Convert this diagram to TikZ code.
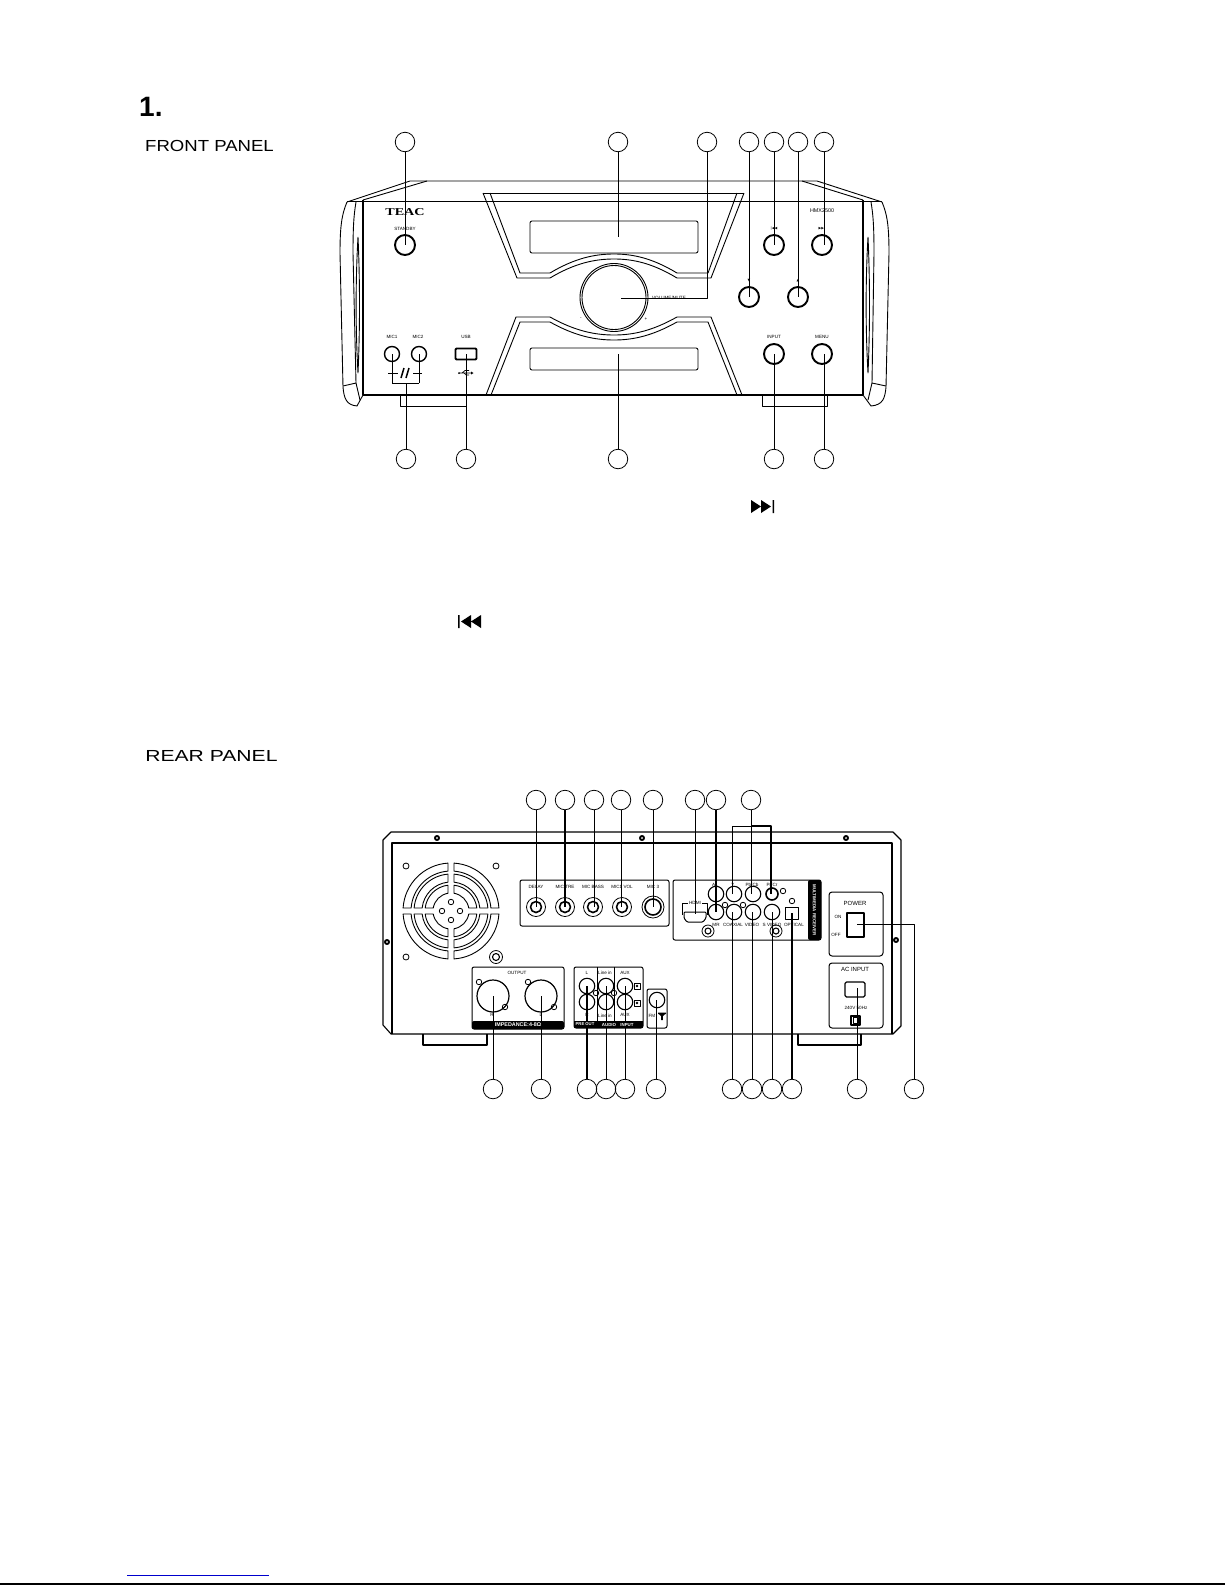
\documentclass[tikz,border=0pt]{standalone}
\usepackage{fontspec}
\usetikzlibrary{calc}
\setmainfont{Liberation Sans}
\newfontfamily\teacfont{Liberation Serif}
\newfontfamily\symfont{DejaVu Sans}
\definecolor{linkblue}{RGB}{0,0,205}
\tikzset{
  cn/.style={circle,draw,line width=0.8pt,minimum size=19.5pt,inner sep=0pt},
  btn/.style={circle,draw,line width=1.9pt,minimum size=20pt,inner sep=0pt},
  jack/.style={circle,draw,line width=1.1pt,minimum size=15.5pt,inner sep=0pt},
  smallhole/.style={circle,draw,line width=0.8pt,minimum size=5.5pt,inner sep=0pt},
  screw/.style={circle,draw,line width=1.9pt,minimum size=4pt,inner sep=0pt},
  lead/.style={line width=0.9pt},
  leadb/.style={line width=1.9pt},
  thin line/.style={line width=0.9pt},
  panelline/.style={line width=1pt,rounded corners=2pt},
  lb/.style={font=\fontsize{4.6}{5}\selectfont,inner sep=0pt},
  lbw/.style={font=\bfseries\fontsize{5.4}{6}\selectfont,inner sep=0pt,text=white},
  head/.style={font=\fontsize{16}{18}\selectfont,inner sep=0pt,anchor=west}
}
\begin{document}
\begin{tikzpicture}[x=1pt,y=-1pt,line join=round]
\useasboundingbox (0,0) rectangle (1225,1585);
\fill[white] (0,0) rectangle (1225,1585);
% headings
\node[inner sep=0pt,anchor=west,font=\bfseries\fontsize{28}{30}\selectfont] (h1) at (139,107) {1.};
\node[head,xscale=1.16] (hf) at (145,146) {FRONT PANEL};
\node[head,xscale=1.32] (hr) at (145,756) {REAR PANEL};
% page furniture
\draw[linkblue,line width=1pt] (127,1575) -- (269,1575);
\draw[line width=1.6pt] (0,1584) -- (1225,1584);
% skip / previous glyphs
\fill (751,500) -- (761,506.5) -- (751,513) -- cycle (761,500) -- (771,506.5) -- (761,513) -- cycle (772.5,500) rectangle (774,513);
\fill (481,615) -- (471,621.5) -- (481,628) -- cycle (471,615) -- (461,621.5) -- (471,628) -- cycle (458,615) rectangle (459.5,628);

%% FRONT PANEL
\begin{scope}[thin line]
\draw (347,202) -- (410,181) -- (817,181) -- (882,202);
\draw (363,200) -- (427,181) (802,181) -- (863,200);
\draw (347,201) -- (882,201) ;
\draw[line width=1.9pt] (363,395) -- (863,395);
\draw[line width=1.5pt] (363,200) -- (363,395) (863,200) -- (863,395);
% ears
\draw (347,202) .. controls (342,214) and (340,225) .. (340,253) -- (343,387) .. controls (344,398) and (346,405) .. (357,406) -- (363,395);
\draw (356,202) .. controls (354,214) and (353,225) .. (353,253) -- (356,383);
\draw (343,386) -- (356,383) -- (360,400);
\draw (358,237) .. controls (355.5,280) and (355.5,330) .. (358,373) .. controls (360,330) and (360,280) .. (358,237);
\draw (882,202) .. controls (887,214) and (889,225) .. (889,253) -- (886,387) .. controls (885,398) and (883,405) .. (871,406) -- (863,395);
\draw (871,202) .. controls (873,214) and (874,225) .. (874,253) -- (872,383);
\draw (886,386) -- (872,383) -- (868,400);
\draw (868,237) .. controls (865.5,280) and (865.5,330) .. (868,373) .. controls (870,330) and (870,280) .. (868,237);
% bezels
\draw (483,193) -- (744,193);
\draw (483,193) -- (517,278) -- (550,278) .. controls (575,263) and (595,259) .. (614,259) .. controls (633,259) and (652,263) .. (677,278) -- (711,278) -- (744,193);
\draw (490,193) -- (520,273) -- (550,273) .. controls (575,258) and (595,254) .. (614,254) .. controls (633,254) and (652,258) .. (677,273) -- (708,273) -- (737,193);
\draw (486,395) -- (516,317) -- (550,317) .. controls (575,331) and (595,335) .. (614,335) .. controls (633,335) and (652,331) .. (677,317) -- (711,317) -- (742,395);
\draw (491,395) -- (520,322) -- (550,322) .. controls (575,336) and (595,340) .. (614,340) .. controls (633,340) and (652,336) .. (677,322) -- (708,322) -- (737,395);
% displays
\draw[rounded corners=2pt] (530,221) rectangle (698,253);
\draw[rounded corners=2pt] (530,348) rectangle (698,370);
% feet
\draw (400,395) -- (400,406) -- (466,406) -- (466,395);
\draw (762,395) -- (762,406) -- (827,406) -- (827,395);
\end{scope}
% knob
\node[circle,draw,fill=white,line width=0.9pt,minimum size=68pt,inner sep=0pt] (knobo) at (614,297.5) {};
\node[circle,draw,line width=0.9pt,minimum size=64pt,inner sep=0pt] (knobi) at (614,297.5) {};
% buttons
\node[btn] (bstandby) at (405,245) {};
\node[btn] (bprev) at (774,245) {};
\node[btn] (bnext) at (822,245) {};
\node[btn] (bdown) at (749,297) {};
\node[btn] (bup) at (798,297) {};
\node[btn] (binput) at (774,354) {};
\node[btn] (bmenu) at (822,354) {};
\node[circle,draw,line width=1.4pt,minimum size=15pt,inner sep=0pt] (bmic1) at (392,354) {};
\node[circle,draw,line width=1.4pt,minimum size=15pt,inner sep=0pt] (bmic2) at (419,354) {};
\node[draw,line width=1.8pt,rounded corners=1pt,minimum width=21pt,minimum height=11pt,inner sep=0pt] (busb) at (466,354) {};
% front labels
\node[inner sep=0pt,font=\teacfont\bfseries\fontsize{10.5}{11}\selectfont,xscale=1.35] (lteac) at (405,212) {TEAC};
\node[lb,font=\fontsize{5.4}{6}\selectfont] (lhmx) at (822,211) {HMX2500};
\node[lb] (lstandby) at (405,229) {STANDBY};
\node[lb] (lmic1) at (392,337) {MIC1};
\node[lb] (lmic2) at (418,337) {MIC2};
\node[lb] (lusb) at (466,337) {USB};
\node[lb] (linput) at (774,337) {INPUT};
\node[lb] (lmenu) at (822,337) {MENU};
\node[lb] (lvol) at (669,298) {VOLUME/MUTE};
\node[lb] (lminus) at (581,319) {-};
\node[lb] (lplus) at (646,319) {+};
\node[lb,font=\symfont\fontsize{3.5}{4}\selectfont] (lprev) at (774,229) {|◀◀};
\node[lb,font=\symfont\fontsize{3.5}{4}\selectfont] (lnext) at (822,229) {▶▶|};
\node[lb,font=\symfont\fontsize{3.5}{4}\selectfont] (ldn) at (749,281) {▼};
\node[lb,font=\symfont\fontsize{3.5}{4}\selectfont] (lup) at (798,281) {▲};
% mic and usb symbols
\draw[line width=1.5pt] (401,378) -- (404,368) (406,378) -- (409,368);
\draw[line width=0.8pt] (388,373) -- (398,373) (413,373) -- (422,373);
\draw[line width=0.7pt] (459,373) -- (472,373) (462,373) -- (465,370.5) -- (469,370.5) (464,373) -- (466,375) -- (469,375);
\fill (473.5,373) -- (471,371.5) -- (471,374.5) -- cycle;
\fill (459,373) circle[radius=1];
% front callout circles
\node[cn] (f1) at (405,142) {};
\node[cn] (f2) at (618,142) {};
\node[cn] (f3) at (707,142) {};
\node[cn] (f4) at (749,142) {};
\node[cn] (f5) at (774,142) {};
\node[cn] (f6) at (798,142) {};
\node[cn] (f7) at (824,142) {};
\node[cn] (f8) at (406,459) {};
\node[cn] (f9) at (466,459) {};
\node[cn] (f10) at (618,459) {};
\node[cn] (f11) at (774,459) {};
\node[cn] (f12) at (824,459) {};
\coordinate (ctop) at (618,237);
\coordinate (cvolbend) at (707,298);
\coordinate (cvol) at (621,298);
\coordinate (cbot) at (618,354);
\coordinate (cmicj) at (406,383);
\coordinate (cmicl) at (392,383);
\coordinate (cmicr) at (419,383);
\coordinate (cn7) at (824,245);
\coordinate (cn12) at (824,354);
\draw[lead] (f1) -- (bstandby.center);
\draw[lead] (f2) -- (ctop);
\draw[lead] (f3) -- (cvolbend) -- (cvol);
\draw[lead] (f4) -- (bdown.center);
\draw[lead] (f5) -- (bprev.center);
\draw[lead] (f6) -- (bup.center);
\draw[lead] (f7) -- (cn7);
\draw[lead] (f8) -- (cmicj);
\draw[lead] (cmicl) -- (cmicr);
\draw[lead] (cmicl) -- (bmic1.center);
\draw[lead] (cmicr) -- (bmic2.center);
\draw[lead] (f9) -- (busb.center);
\draw[lead] (f10) -- (cbot);
\draw[lead] (f11) -- (binput.center);
\draw[lead] (f12) -- (cn12);

%% REAR PANEL
\draw[line width=1.1pt] (383,1025) -- (383,840) -- (391,832) -- (893,832) -- (901,840) -- (901,1026) -- (893,1034) -- (391,1034) -- cycle;
\draw[line width=1.1pt] (392,1034) -- (392,843) -- (892,843) -- (892,1034);
\draw[line width=1.6pt] (423,1034) -- (423,1045) -- (487,1045) -- (487,1034);
\draw[line width=1.6pt] (798,1034) -- (798,1045) -- (861,1045) -- (861,1034);
\node[screw] (s1) at (437,838) {};
\node[screw] (s2) at (642,838) {};
\node[screw] (s3) at (846,838) {};
\node[screw] (s4) at (387,942) {};
\node[screw] (s5) at (896,940) {};
% fan
\coordinate (fan) at (451,911);
\foreach \q in {0,90,180,270}{
  \foreach \ro/\ri in {48/40,37/29,26/18}{
    \pgfmathsetmacro{\aa}{asin(3/\ro)}
    \pgfmathsetmacro{\ab}{asin(3/\ri)}
    \draw[line width=0.9pt] ($(fan)+(\q+\aa:\ro)$) arc[start angle=\q+\aa,end angle=\q+90-\aa,radius=\ro] -- ($(fan)+(\q+90-\ab:\ri)$) arc[start angle=\q+90-\ab,end angle=\q+\ab,radius=\ri] -- cycle;
  }
}
\node[smallhole] (fc1) at (451,902) {};
\node[smallhole] (fc2) at (442,911) {};
\node[smallhole] (fc3) at (460,911) {};
\node[smallhole] (fc4) at (451,920) {};
\node[smallhole,minimum size=6pt] (fh1) at (406,866) {};
\node[smallhole,minimum size=6pt] (fh2) at (496,866) {};
\node[smallhole,minimum size=6pt] (fh3) at (406,957) {};
\node[jack,minimum size=13pt,line width=0.8pt] (gnd) at (496,957) {};
\node[jack,minimum size=7pt] (gndi) at (496,957) {};
% mic panel
\draw[panelline] (520,880) rectangle (669,926);
\foreach \n/\x in {ma/536,mb/565,mc/593,md/622}{
  \node[circle,draw,line width=0.8pt,minimum size=19pt,inner sep=0pt] (\n o) at (\x,907) {};
  \node[circle,draw,line width=1.6pt,minimum size=11pt,inner sep=0pt] (\n) at (\x,907) {};
}
\node[circle,draw,line width=0.8pt,minimum size=22pt,inner sep=0pt] (meo) at (653,907) {};
\node[circle,draw,line width=1.6pt,minimum size=16pt,inner sep=0pt] (me) at (653,907) {};
\node[lb] (lm1) at (536,887) {DELAY};
\node[lb] (lm2) at (565,887) {MIC TRE};
\node[lb] (lm3) at (593,887) {MIC BASS};
\node[lb] (lm4) at (622,887) {MIC1 VOL};
\node[lb] (lm5) at (653,887) {MIC 3};
% output panel
\fill[rounded corners=2pt] (472,1021) -- (472,1029) -- (564,1029) -- (564,1021) -- cycle;
\draw[panelline] (472,967) rectangle (564,1029);
\node[lbw] (lout) at (518,1025) {IMPEDANCE:4-8Ω};
\node[lb] (loutput) at (517,973) {OUTPUT};
\node[circle,draw,line width=1.2pt,minimum size=32pt,inner sep=0pt] (xl) at (493,996) {};
\node[circle,draw,line width=1.2pt,minimum size=32pt,inner sep=0pt] (xr) at (541,996) {};
\node[smallhole] (xh1) at (479,982) {};
\node[smallhole] (xh2) at (505,1007) {};
\node[smallhole] (xh3) at (528,982) {};
\node[smallhole] (xh4) at (554,1007) {};
\node[lb] (lxr) at (492,1015) {R};
\node[lb] (lxl) at (541,1015) {L};
% audio panel
\fill (574,1021) rectangle (643,1028);
\draw[panelline] (574,967) rectangle (643,1028);
\draw[thin line] (597,967) -- (597,1021) (614,967) -- (614,1021);
\foreach \n/\x in {p/587,q/606,r/625}{
  \node[jack] (\n a) at (\x,986) {};
  \node[jack] (\n b) at (\x,1002) {};
}
\node[smallhole] (ah1) at (596,993) {};
\node[smallhole] (ah2) at (614,993) {};
\node[draw,line width=0.9pt,minimum size=6pt,inner sep=0pt] (as1) at (637,986) {};
\node[draw,line width=0.9pt,minimum size=6pt,inner sep=0pt] (as2) at (637,1003) {};
\fill (637,986) circle[radius=1.4] (637,1003) circle[radius=1.4];
\node[lb] (la1) at (587,973) {L};
\node[lb] (la2) at (605,973) {Line in};
\node[lb] (la3) at (625,973) {AUX};
\node[lb] (la4) at (587,1015) {R};
\node[lb] (la5) at (605,1016) {Line in};
\node[lb] (la6) at (625,1015) {AUX};
% FM panel
\draw[panelline] (647,989) rectangle (667,1028);
\node[jack] (fmj) at (657,1000) {};
\node[lb] (lfm) at (652,1016) {FM};
\fill (658,1012.5) rectangle (666,1014) (661.2,1014) rectangle (662.8,1020);
\fill (659,1014) -- (665,1014) -- (662,1017) -- cycle;
% multimedia panel
\fill[rounded corners=2pt] (808,880) rectangle (821,940);
\draw[panelline] (673,880) rectangle (821,940);
\node[lbw,rotate=-90,font=\bfseries\fontsize{4.4}{5}\selectfont] (lmm) at (814.5,910) {MULTIMEDIA RECEIVER};
\node[jack] (ja) at (716,894) {};
\node[jack] (jb) at (734,894) {};
\node[jack] (jc) at (753,894) {};
\node[jack,line width=1.6pt,minimum size=12pt] (jd) at (772,894) {};
\node[jack] (je) at (716,912) {};
\node[jack] (jf) at (734,912) {};
\node[jack] (jg) at (753,912) {};
\node[jack] (jh) at (772,912) {};
\node[draw,line width=1pt,minimum width=13pt,minimum height=12pt,inner sep=0pt] (jopt) at (791.5,913) {};
\node[smallhole] (jh1) at (725,905) {};
\node[smallhole] (jh2) at (743,905) {};
\node[smallhole] (jh3) at (783,891) {};
\node[smallhole] (jh4) at (792,901) {};
\node[jack,minimum size=12pt,line width=0.8pt] (jl1) at (708,931) {};
\node[jack,minimum size=6pt] (jl1i) at (708,931) {};
\node[jack,minimum size=12pt,line width=0.8pt] (jl2) at (776,931) {};
\node[jack,minimum size=6pt] (jl2i) at (776,931) {};
\draw[line width=0.9pt] (682,915) -- (682,903) -- (688,903) (702,903) -- (707,903) -- (707,915);
\draw[line width=1pt,rounded corners=1pt] (684,912) -- (706,912) -- (706,918) -- (703,922) -- (687,922) -- (684,918) -- cycle;
\node[lb] (lhdmi) at (695,903) {HDMI};
\node[lb] (lj1) at (715,885) {AL};
\node[lb] (lj2) at (733,885) {Y};
\node[lb] (lj3) at (752,885) {Pb/Cb};
\node[lb] (lj4) at (772,885) {Pr/Cr};
\node[lb] (lj5) at (716,925) {MR};
\node[lb] (lj6) at (733,925) {COAXIAL};
\node[lb] (lj7) at (752,925) {VIDEO};
\node[lb] (lj8) at (772,925) {S VIDEO};
\node[lb] (lj9) at (794,925) {OPTICAL};
% power
\draw[panelline,rounded corners=3pt] (829,892) rectangle (883,956);
\node[draw,line width=1.2pt,minimum width=17pt,minimum height=24pt,inner sep=0pt] (psw) at (855.5,925) {};
\node[lb,font=\fontsize{6}{7}\selectfont] (lpow) at (855,903) {POWER};
\node[lb] (lon) at (838,917) {ON};
\node[lb] (loff) at (836,935) {OFF};
\draw[panelline,rounded corners=3pt] (829,963) rectangle (883,1028);
\node[draw,line width=1.2pt,rounded corners=1.5pt,minimum width=20pt,minimum height=15pt,inner sep=0pt] (psock) at (855,989.5) {};
\node[lb,font=\fontsize{6}{7}\selectfont] (lac) at (855,969) {AC INPUT};
\node[lb] (lhz) at (856,1008) {240V~50Hz};
\draw[line width=1.2pt] (851,1016) rectangle (860,1025);
\draw[line width=0.9pt] (853.5,1017.5) rectangle (858,1023.5);
% rear callouts
\node[cn] (r1) at (536,800) {};
\node[cn] (r2) at (565,800) {};
\node[cn] (r3) at (594,800) {};
\node[cn] (r4) at (621,800) {};
\node[cn] (r5) at (653,800) {};
\node[cn] (r6) at (695,800) {};
\node[cn] (r7) at (716,800) {};
\node[cn] (r8) at (751,800) {};
\node[cn] (r9) at (493,1089) {};
\node[cn] (r10) at (541,1089) {};
\node[cn] (r11) at (587,1089) {};
\node[cn] (r12) at (606,1089) {};
\node[cn] (r13) at (625,1089) {};
\node[cn] (r14) at (656,1089) {};
\node[cn] (r15) at (732,1089) {};
\node[cn] (r16) at (752,1089) {};
\node[cn] (r17) at (772,1089) {};
\node[cn] (r18) at (792,1089) {};
\node[cn] (r19) at (857,1089) {};
\node[cn] (r20) at (914,1089) {};
\coordinate (cr1) at (536,907);
\coordinate (cr2) at (565,907);
\coordinate (cr3) at (594,907);
\coordinate (cr4) at (621,907);
\coordinate (cr6) at (695,914);
\coordinate (cr7) at (716,912);
\coordinate (cr8) at (751,826);
\coordinate (cr8l) at (732,826);
\coordinate (cr8r) at (771,826);
\coordinate (cr8a) at (732,894);
\coordinate (cr8b) at (751,894);
\coordinate (cr8c) at (771,894);
\coordinate (cr9) at (493,996);
\coordinate (cr10) at (541,996);
\coordinate (cr11) at (587,986);
\coordinate (cr12) at (606,986);
\coordinate (cr13) at (625,986);
\coordinate (cr14) at (656,1000);
\coordinate (cr15) at (732,912);
\coordinate (cr16) at (752,912);
\coordinate (cr17) at (772,912);
\coordinate (cr18) at (792,913);
\coordinate (cr19) at (857,988);
\coordinate (cr20) at (914,924);
\coordinate (cr20s) at (857,924);
\draw[lead] (r1) -- (cr1);
\draw[leadb] (r2) -- (cr2);
\draw[lead] (r3) -- (cr3);
\draw[lead] (r4) -- (cr4);
\draw[lead] (r5) -- (me.center);
\draw[lead] (r6) -- (cr6);
\draw[leadb] (r7) -- (cr7);
\draw[lead] (r8) -- (cr8b);
\draw[lead] (cr8a) -- (cr8l) -- (cr8);
\draw[leadb] (cr8) -- (cr8r) -- (cr8c);
\draw[lead] (r9) -- (cr9);
\draw[lead] (r10) -- (cr10);
\draw[leadb] (r11) -- (cr11);
\draw[lead] (r12) -- (cr12);
\draw[lead] (r13) -- (cr13);
\draw[lead] (r14) -- (cr14);
\draw[lead] (r15) -- (cr15);
\draw[lead] (r16) -- (cr16);
\draw[lead] (r17) -- (cr17);
\draw[leadb] (r18) -- (cr18);
\draw[lead] (r19) -- (cr19);
\draw[lead] (r20) -- (cr20) -- (cr20s);
% band labels over the leaders
\node[lbw,font=\bfseries\fontsize{4.2}{5}\selectfont] (la7) at (585,1024.5) {PRE OUT};
\node[lbw,font=\bfseries\fontsize{4.4}{5}\selectfont] (la8) at (609,1024.5) {AUDIO};
\node[lbw,font=\bfseries\fontsize{4.4}{5}\selectfont] (la9) at (627,1024.5) {INPUT};
\end{tikzpicture}
\end{document}
